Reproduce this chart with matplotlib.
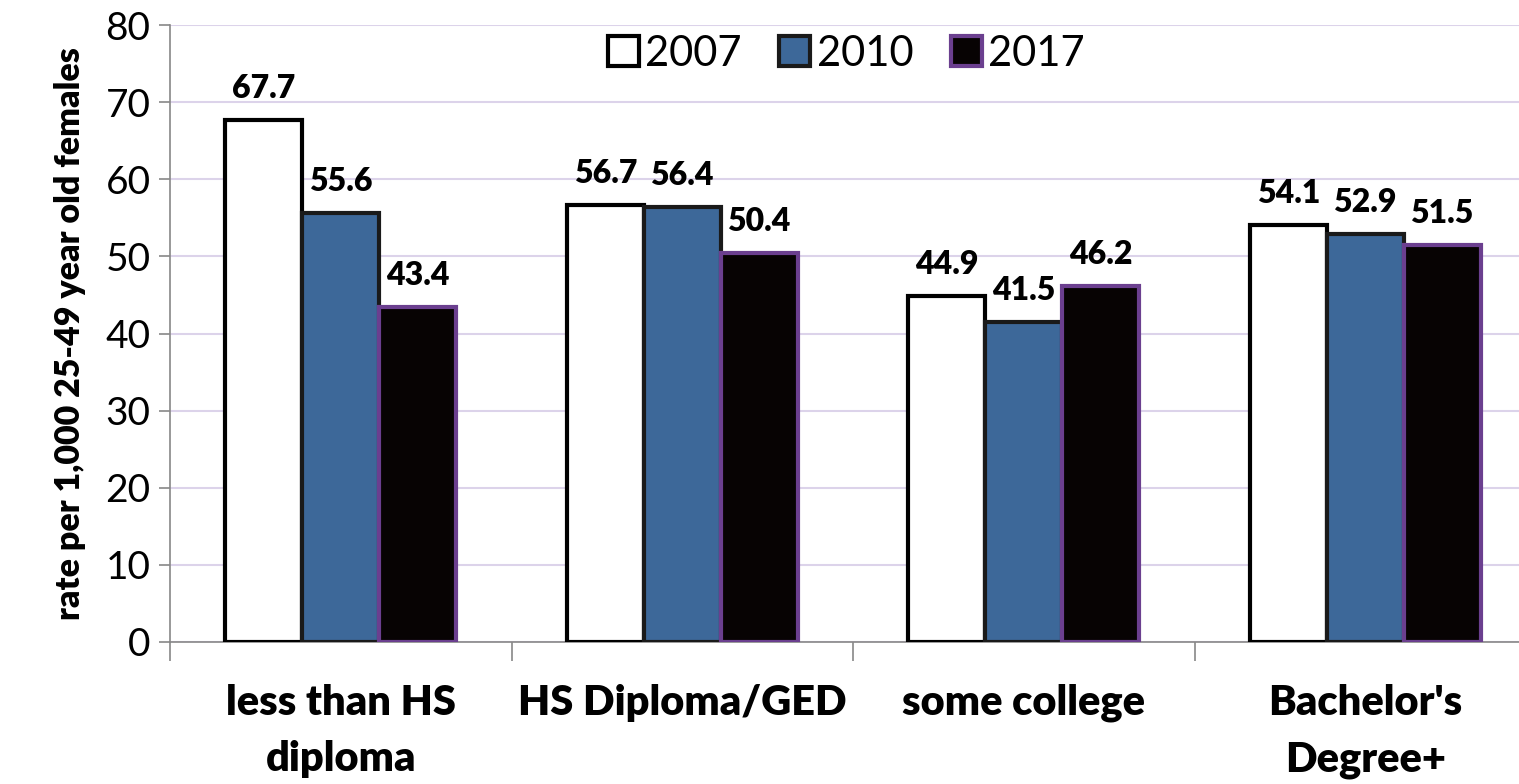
import matplotlib.pyplot as plt
import numpy as np

categories = ["less than HS\ndiploma", "HS Diploma/GED", "some college", "Bachelor's\nDegree+"]
years = ["2007", "2010", "2017"]
rates_2007 = [67.7, 56.7, 44.9, 54.1]
rates_2010 = [55.6, 56.4, 41.5, 52.9]
rates_2017 = [43.4, 50.4, 46.2, 51.5]

plt.rcParams['font.family'] = ['Lato', 'DejaVu Sans']

fig = plt.figure(figsize=(15.19, 7.84), dpi=100)
ax = fig.add_axes([170 / 1519, 1 - 642 / 784, 1366 / 1519, (642 - 25) / 784])

x = np.arange(len(categories))
w = 0.225
styles = [
    dict(color="white", edgecolor="black"),
    dict(color="#3d6899", edgecolor="#1a1a1a"),
    dict(color="#070303", edgecolor="#6b3f8f"),
]
for i, (vals, yr, st) in enumerate(zip([rates_2007, rates_2010, rates_2017], years, styles)):
    pos = x + (i - 1) * w
    bars = ax.bar(pos, vals, w, label=yr, linewidth=3, zorder=3, **st)
    for b, v in zip(bars, vals):
        ax.text(b.get_x() + b.get_width() / 2, v + 2.2, f"{v}", ha='center', va='bottom',
                fontsize=23, fontweight='heavy', zorder=4)

ax.set_xlim(-0.5, 3.5)
ax.set_ylim(0, 80)
ax.set_yticks(range(0, 81, 10))
ax.yaxis.grid(True, color="#dcd3ea", linewidth=1.5, zorder=0)
ax.set_axisbelow(True)

ax.set_xticks([-0.5, 0.5, 1.5, 2.5, 3.5])
ax.set_xticklabels([])
ax.set_xticks(x, minor=True)
ax.set_xticklabels(categories, minor=True, fontsize=30, fontweight='heavy', linespacing=1.6)
ax.tick_params(axis='x', which='major', length=14, color='#888888', width=1.2)
ax.tick_params(axis='x', which='minor', length=0, pad=30)
ax.tick_params(axis='y', labelsize=28, length=8, color='#888888', width=1.2, pad=6)

for s in ['top', 'right']:
    ax.spines[s].set_visible(False)
ax.spines['left'].set_color('#888888')
ax.spines['bottom'].set_color('#888888')
ax.spines['left'].set_linewidth(1.2)
ax.spines['bottom'].set_linewidth(1.2)

ax.set_ylabel("rate per 1,000 25-49 year old females", fontsize=24.5, fontweight='heavy', labelpad=14)

leg = ax.legend(loc='upper center', bbox_to_anchor=(0.495, 1.045), ncol=3, frameon=False,
                fontsize=30, handlelength=0.75, handleheight=0.75, handletextpad=0.15,
                columnspacing=0.9)

fig.savefig("out.png", dpi=100)
